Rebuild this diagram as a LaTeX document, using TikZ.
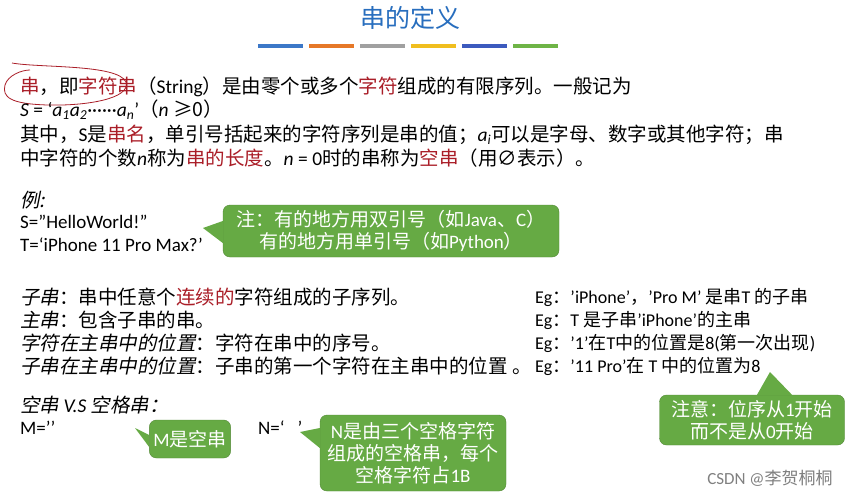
\documentclass[tikz,border=0pt]{standalone}
\usepackage{fontspec}
\setmainfont{Noto Sans CJK SC}[AutoFakeSlant=0.2]
\newfontfamily\lat{Carlito}
\definecolor{dred}{RGB}{170,30,40}
\definecolor{gbox}{RGB}{102,170,68}
\definecolor{tblue}{RGB}{40,110,190}
\definecolor{b0}{RGB}{60,120,200}
\definecolor{b1}{RGB}{230,120,40}
\definecolor{b2}{RGB}{160,160,160}
\definecolor{b3}{RGB}{240,190,30}
\definecolor{b4}{RGB}{60,90,190}
\definecolor{b5}{RGB}{110,180,70}
\newcommand{\rd}[1]{\textcolor{dred}{#1}}
\newcommand{\va}[1]{{\lat\itshape a\textsubscript{#1}}}
\newcommand{\li}[1]{{\lat\itshape #1}}
\begin{document}
\begin{tikzpicture}[x=1pt,y=-1pt,
  txt/.style={anchor=west,inner sep=0pt,font=\fontsize{19.5}{22}\selectfont},
  call/.style={fill=gbox,draw=gbox!80!black,rounded corners=7pt,text=white,align=center,font=\fontsize{19}{22}\selectfont,inner sep=4pt}]
\useasboundingbox (0,0) rectangle (851,499);
\fill[white] (0,0) rectangle (851,499);
\node[font=\fontsize{25}{28}\selectfont,text=tblue] (title) at (410,18) {串的定义};
\foreach \i in {0,...,5}{
  \fill[b\i] (258+\i*51,44) rectangle (303+\i*51,48);}
\node[txt] (l1) at (20,87) {\rd{串}，即\rd{字符串}（{\lat String}）是由零个或多个\rd{字符}组成的有限序列。一般记为};
\draw[dred,thick] (12,63) .. controls (40,68) and (118,64) .. (126,82) .. controls (131,99) and (85,106) .. (48,105) .. controls (10,104) and (2,97) .. (5,85) .. controls (8,75) and (22,70) .. (30,70);
\node[txt] (l2) at (20,110) {{\lat \li{S} = ‘\va1\va2······\va{n}’}（\li{n} ≥0）};
\node[txt] (l3) at (20,135) {其中，{\lat S}是\rd{串名}，单引号括起来的字符序列是串的值；\va{i}可以是字母、数字或其他字符；串};
\node[txt] (l4) at (20,158) {中字符的个数\li{n}称为\rd{串的长度}。{\lat \li{n} = 0}时的串称为\rd{空串}（用∅表示）。};
\node[txt] (e0) at (20,200) {\textit{例:}};
\node[txt,font=\lat\fontsize{19}{22}\selectfont] (e1) at (20,222) {S=”HelloWorld!”};
\node[txt,font=\lat\fontsize{19}{22}\selectfont] (e2) at (20,245) {T=‘iPhone 11 Pro Max?’};
\node[call,minimum width=336pt,minimum height=52pt] (c1) at (391,231) {注：有的地方用双引号（如{\lat Java}、{\lat C}）\\有的地方用单引号（如{\lat Python}）};
\fill[gbox] ([yshift=10pt]c1.west) -- (203,228) -- ([yshift=-12pt]c1.west) -- cycle;
\node[txt] (d1) at (20,297) {\textit{子串}：串中任意个\rd{连续的}字符组成的子序列。};
\node[txt] (d2) at (20,320) {\textit{主串}：包含子串的串。};
\node[txt] (d3) at (20,343) {\textit{字符在主串中的位置}：字符在串中的序号。};
\node[txt] (d4) at (20,366) {\textit{子串在主串中的位置}：子串的第一个字符在主串中的位置 。};
\begin{scope}[txt/.append style={font=\fontsize{18}{20}\selectfont}]
\node[txt] (g1) at (535,297) {{\lat Eg}：{\lat ’iPhone’}，{\lat ’Pro M’} 是串{\lat T} 的子串};
\node[txt] (g2) at (535,320) {{\lat Eg}：{\lat T} 是子串{\lat ’iPhone’}的主串};
\node[txt] (g3) at (535,343) {{\lat Eg}：{\lat ’1’}在{\lat T}中的位置是{\lat 8(}第一次出现{\lat )}};
\node[txt] (g4) at (535,366) {{\lat Eg}：{\lat ’11 Pro’}在 {\lat T} 中的位置为{\lat 8}};
\end{scope}
\node[txt] (v0) at (20,405) {\textit{空串 {\lat V.S} 空格串：}};
\node[txt,font=\lat\fontsize{19}{22}\selectfont] (m) at (20,428) {M=’’};
\node[txt,font=\lat\fontsize{19}{22}\selectfont] (n) at (258,428) {N=‘\ \ \ ’};
\node[call,minimum width=70pt,minimum height=38pt] (cm) at (190,439) {{\lat M}是空串};
\fill[gbox] ([yshift=4pt]cm.west) -- (135,428) -- ([yshift=-8pt]cm.west) -- cycle;
\node[call,minimum width=186pt,minimum height=76pt] (cn) at (413,453) {{\lat N}是由三个空格字符\\组成的空格串，每个\\空格字符占{\lat 1B}};
\fill[gbox] ([yshift=25pt]cn.west) -- (300,432) -- ([yshift=5pt]cn.west) -- cycle;
\node[call,minimum width=185pt,minimum height=50pt] (cr) at (752,420) {注意：位序从{\lat 1}开始\\而不是从{\lat 0}开始};
\fill[gbox] ([xshift=5pt]cr.north) -- (770,372) -- ([xshift=40pt]cr.north) -- cycle;
\node[font=\fontsize{17}{19}\selectfont,text=gray] (wm) at (770,478) {{\lat CSDN @}李贺桐桐};
\end{tikzpicture}
\end{document}
